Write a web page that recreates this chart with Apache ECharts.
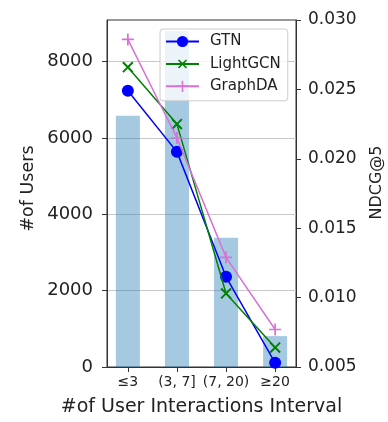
<!DOCTYPE html>
<html>
<head>
<meta charset="utf-8">
<script src="https://cdn.jsdelivr.net/npm/echarts@6/dist/echarts.min.js"></script>
<style>html,body{margin:0;padding:0;background:#fff}#c{width:388px;height:422px}</style>
</head>
<body>
<div id="c"></div>
<script>
var categories = ['\u22643', '(3, 7]', '(7, 20)', '\u226520'];
var users = [6580, 8800, 3385, 810];
var gtn = [0.0249, 0.0205, 0.0115, 0.0053];
var lightgcn = [0.0266, 0.0225, 0.0103, 0.0064];
var graphda = [0.0286, 0.0215, 0.0129, 0.0077];
var leftTicks = [0, 2000, 4000, 6000, 8000];

function pairs(arr) { return arr.map(function (v, i) { return [i, v]; }); }

var FONT = 'DejaVu Sans';
var plusPath = 'path://M0,4.3H4.3V0H5.7V4.3H10V5.7H5.7V10H4.3V5.7H0Z';

var chart = echarts.init(document.getElementById('c'), null, {renderer: 'canvas'});
chart.setOption({
  animation: false,
  backgroundColor: '#fff',
  textStyle: {fontFamily: FONT},
  grid: {left: 107, right: 92, top: 20, bottom: 52, show: true, borderColor: '#333', borderWidth: 1, containLabel: false},
  legend: {
    data: ['GTN', 'LightGCN', 'GraphDA'],
    orient: 'vertical',
    left: 160, top: 29,
    padding: [5, 7, 7, 5],
    itemWidth: 33, itemHeight: 14, itemGap: 7,
    backgroundColor: 'rgba(255,255,255,0.8)',
    borderColor: '#cccccc', borderWidth: 1, borderRadius: 3,
    textStyle: {fontFamily: FONT, fontSize: 15, color: '#222', padding: [0, 0, 0, 6]}
  },
  xAxis: {
    type: 'value', min: -0.425, max: 3.425,
    name: '#of User Interactions Interval', nameLocation: 'middle', nameGap: 31,
    nameTextStyle: {fontFamily: FONT, fontSize: 19, color: '#222'},
    axisLine: {show: true, onZero: false, lineStyle: {color: '#333', width: 1}},
    axisTick: {show: true, length: 5, customValues: [0, 1, 2, 3], lineStyle: {color: '#333'}},
    axisLabel: {customValues: [0, 1, 2, 3], margin: 8, fontFamily: FONT, fontSize: 14, color: '#222',
      formatter: function (v) { return categories[Math.round(v)]; }},
    splitLine: {show: false}
  },
  yAxis: [{
    type: 'value', min: 0, max: 9090, position: 'left',
    name: '#of Users', nameLocation: 'middle', nameGap: 70,
    nameTextStyle: {fontFamily: FONT, fontSize: 17.5, color: '#222', padding: [0, 0, 0, 10]},
    axisLine: {show: true, onZero: false, lineStyle: {color: '#333', width: 1}},
    axisTick: {show: true, length: 5, customValues: leftTicks, lineStyle: {color: '#333'}},
    axisLabel: {customValues: leftTicks, margin: 14, fontFamily: FONT, fontSize: 18, color: '#222',
      formatter: function (v) { return String(v); }},
    interval: 2000,
    splitLine: {show: true, lineStyle: {color: '#c8c8c8', width: 1}}
  }, {
    type: 'value', min: 0.005, max: 0.030, interval: 0.005, position: 'right',
    name: 'NDCG@5', nameLocation: 'middle', nameGap: 73,
    nameTextStyle: {fontFamily: FONT, fontSize: 16, color: '#222', padding: [0, 0, 0, 22]},
    axisLine: {show: true, onZero: false, lineStyle: {color: '#333', width: 1}},
    axisTick: {show: true, length: 5, lineStyle: {color: '#333'}},
    axisLabel: {margin: 12, fontFamily: FONT, fontSize: 17, color: '#222',
      formatter: function (v) { return v.toFixed(3); }},
    splitLine: {show: false}
  }],
  series: [{
    name: 'users', type: 'bar', yAxisIndex: 0, barWidth: 24,
    itemStyle: {color: '#1f77b4', opacity: 0.4},
    data: pairs(users), z: 1
  }, {
    name: 'GTN', type: 'line', yAxisIndex: 1, data: pairs(gtn),
    symbol: 'circle', symbolSize: 12,
    lineStyle: {color: '#0000ff', width: 1.5},
    itemStyle: {color: '#0000ff'}, z: 3
  }, {
    name: 'LightGCN', type: 'line', yAxisIndex: 1, data: pairs(lightgcn),
    symbol: plusPath, symbolSize: 14, symbolRotate: 45,
    lineStyle: {color: '#008000', width: 1.5},
    itemStyle: {color: '#008000'}, z: 4
  }, {
    name: 'GraphDA', type: 'line', yAxisIndex: 1, data: pairs(graphda),
    symbol: plusPath, symbolSize: 12,
    lineStyle: {color: '#da70d6', width: 1.5},
    itemStyle: {color: '#da70d6'}, z: 5
  }]
});
</script>
</body>
</html>
